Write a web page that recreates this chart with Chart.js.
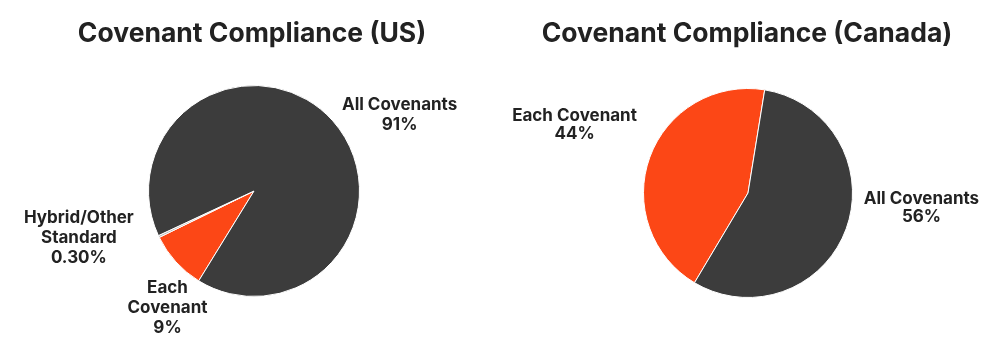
<!DOCTYPE html>
<html>
<head>
<meta charset="utf-8">
<script src="https://cdn.jsdelivr.net/npm/chart.js@4.4.1/dist/chart.umd.min.js"></script>
<style>
  html, body { margin: 0; padding: 0; background: #fff; }
  .wrap { display: flex; width: 1000px; height: 356px; }
  canvas { display: block; }
</style>
</head>
<body>
<div class="wrap">
  <canvas id="us" width="500" height="356"></canvas>
  <canvas id="ca" width="500" height="356"></canvas>
</div>
<script>
// data
const usCategories = ['Each\nCovenant', 'Hybrid/Other\nStandard', 'All Covenants'];
const usValues = [9, 0.3, 91];
const usPctLabels = ['9%', '0.30%', '91%'];

const caCategories = ['Each Covenant', 'All Covenants'];
const caValues = [44, 56];
const caPctLabels = ['44%', '56%'];

const ORANGE = '#fc4716';
const DARK = '#3c3c3c';
const HYBRID = '#b4b4b4';
const TEXT = '#222222';
const FONT = 'Inter, "DejaVu Sans", sans-serif';

// title across the full canvas width + labels next to each slice
const pieText = {
  id: 'pieText',
  afterDatasetsDraw(chart, args, opts) {
    const ctx = chart.ctx;
    const meta = chart.getDatasetMeta(0);
    ctx.save();
    ctx.fillStyle = TEXT;
    ctx.textAlign = 'center';
    ctx.textBaseline = 'middle';

    ctx.font = '700 26.5px ' + FONT;
    ctx.fillText(opts.title, opts.titleX, 34);

    ctx.font = '700 17px ' + FONT;
    meta.data.forEach((arc, i) => {
      const r = arc.outerRadius;
      const off = opts.offsets[i];
      const cx = arc.x + off[0] * r;
      const cy = arc.y + off[1] * r;
      const lines = chart.data.labels[i].split('\n').concat([opts.pct[i]]);
      const lh = opts.lineHeight;
      lines.forEach((t, k) => {
        ctx.fillText(t, cx, cy + (k - (lines.length - 1) / 2) * lh);
      });
    });
    ctx.restore();
  }
};

function makePie(id, labels, values, colors, pct, rotation, padding, offsets, lineHeight, title, titleX) {
  return new Chart(document.getElementById(id), {
    type: 'pie',
    data: {
      labels: labels,
      datasets: [{
        data: values,
        backgroundColor: colors,
        borderColor: '#ffffff',
        borderWidth: 1
      }]
    },
    options: {
      responsive: false,
      animation: false,
      rotation: rotation,
      layout: { padding: padding },
      plugins: {
        legend: { display: false },
        tooltip: { enabled: false },
        title: { display: false },
        pieText: { offsets: offsets, pct: pct, lineHeight: lineHeight, title: title, titleX: titleX }
      }
    },
    plugins: [pieText]
  });
}

makePie('us', usCategories, usValues, [ORANGE, HYBRID, DARK], usPctLabels, 211.6,
  { left: 148, right: 140, top: 85, bottom: 59 },
  [[-0.82, 1.11], [-1.66, 0.44], [1.38, -0.72]], 20,
  'Covenant Compliance (US)', 252);

makePie('ca', caCategories, caValues, [ORANGE, DARK], caPctLabels, 210.8,
  { left: 143, right: 147, top: 88, bottom: 58 },
  [[-1.66, -0.65], [1.66, 0.14]], 18,
  'Covenant Compliance (Canada)', 247);
</script>
</body>
</html>
